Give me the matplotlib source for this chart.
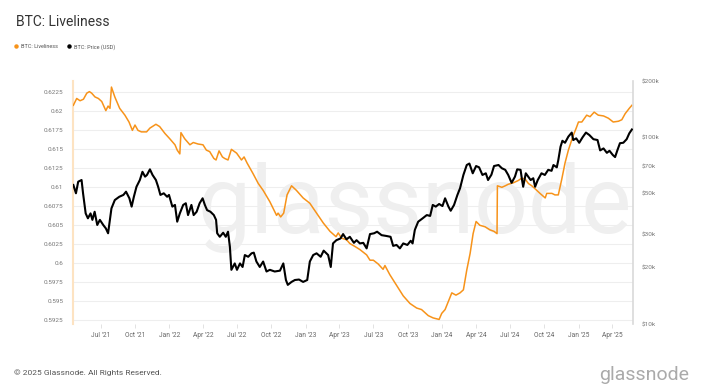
import matplotlib
matplotlib.use("Agg")
import matplotlib.pyplot as plt
import matplotlib.dates as mdates
import matplotlib.ticker as mticker
from matplotlib.lines import Line2D
import pandas as pd

# BTC liveliness (left axis)
liv_dates = ['2021-04-19','2021-04-28','2021-05-07','2021-05-16','2021-05-25','2021-06-01','2021-06-07',
             '2021-06-16','2021-06-25','2021-07-04','2021-07-15','2021-07-21','2021-07-26','2021-07-30',
             '2021-08-08','2021-08-21','2021-09-04','2021-09-15','2021-09-24','2021-10-01','2021-10-09',
             '2021-10-18','2021-11-01','2021-11-10','2021-11-26','2021-12-06','2021-12-20','2022-01-02',
             '2022-01-16','2022-01-22','2022-01-29','2022-02-01','2022-02-11','2022-02-25','2022-03-06',
             '2022-03-19','2022-04-01','2022-04-10','2022-04-19','2022-04-30','2022-05-06','2022-05-14',
             '2022-05-23','2022-05-29','2022-06-07','2022-06-16','2022-06-30','2022-07-13','2022-07-20',
             '2022-07-28','2022-08-13','2022-08-27','2022-09-09','2022-09-27','2022-10-10','2022-10-15',
             '2022-10-19','2022-10-26','2022-11-03','2022-11-12','2022-11-24','2022-12-07','2022-12-25',
             '2023-01-12','2023-01-30','2023-02-17','2023-03-07','2023-03-23','2023-03-29','2023-04-07',
             '2023-04-20','2023-04-29','2023-05-13','2023-05-26','2023-06-13','2023-06-22','2023-07-01',
             '2023-07-14','2023-07-27','2023-08-01','2023-08-14','2023-09-01','2023-09-19','2023-10-07',
             '2023-10-25','2023-11-07','2023-11-25','2023-12-08','2023-12-24','2023-12-31','2024-01-09',
             '2024-01-18','2024-01-27','2024-02-07','2024-02-18','2024-02-27','2024-03-07','2024-03-16',
             '2024-03-24','2024-04-01','2024-04-11','2024-04-25','2024-05-08','2024-05-19','2024-05-27',
             '2024-05-28','2024-06-09','2024-06-18','2024-06-26','2024-07-10','2024-07-23','2024-08-01',
             '2024-08-10','2024-08-19','2024-08-28','2024-09-06','2024-09-19','2024-10-03','2024-10-07',
             '2024-10-21','2024-10-29','2024-11-07','2024-11-16','2024-11-25','2024-12-04','2024-12-16',
             '2024-12-25','2024-12-31','2025-01-09','2025-01-22','2025-01-31','2025-02-11','2025-02-22',
             '2025-03-08','2025-03-21','2025-04-03','2025-04-17','2025-04-26','2025-05-05','2025-05-16',
             '2025-05-23']
liveliness = [0.6208,0.6217,0.6214,0.6216,0.6224,0.6226,0.6224,
              0.6219,0.6217,0.6213,0.6201,0.6207,0.6204,0.6232,
              0.6219,0.6204,0.6195,0.6186,0.6175,0.6182,0.6175,
              0.6173,0.6173,0.6178,0.6183,0.6180,0.6171,0.6164,
              0.6156,0.6149,0.6144,0.6172,0.6164,0.6156,0.6159,
              0.6157,0.6156,0.6149,0.6147,0.6138,0.6136,0.6148,
              0.6140,0.6138,0.6136,0.6150,0.6145,0.6136,0.6140,
              0.6132,0.6118,0.6105,0.6096,0.6081,0.6068,0.6063,
              0.6066,0.6061,0.6066,0.6090,0.6102,0.6096,0.6086,
              0.6079,0.6066,0.6053,0.6042,0.6035,0.6040,0.6033,
              0.6031,0.6026,0.6022,0.6018,0.6011,0.6004,0.6004,
              0.5999,0.5992,0.5997,0.5985,0.5971,0.5957,0.5947,
              0.5941,0.5939,0.5931,0.5928,0.5926,0.5934,0.5939,
              0.5950,0.5961,0.5958,0.5961,0.5965,0.5991,0.6013,
              0.6039,0.6055,0.6050,0.6048,0.6044,0.6042,0.6039,
              0.6102,0.6100,0.6102,0.6104,0.6106,0.6109,0.6112,
              0.6111,0.6105,0.6102,0.6098,0.6092,0.6086,0.6092,
              0.6092,0.6090,0.6090,0.6110,0.6132,0.6149,0.6167,
              0.6178,0.6186,0.6186,0.6195,0.6193,0.6199,0.6195,
              0.6194,0.6191,0.6186,0.6187,0.6189,0.6197,0.6204,
              0.6208]

# BTC price in USD (right axis, log)
price_dates = ['2021-04-19','2021-04-26','2021-05-02','2021-05-11','2021-05-15','2021-05-22','2021-05-28',
               '2021-06-04','2021-06-09','2021-06-15','2021-06-22','2021-06-29','2021-07-08','2021-07-15',
               '2021-07-21','2021-07-26','2021-07-30','2021-08-08','2021-08-20','2021-08-31','2021-09-07',
               '2021-09-16','2021-09-22','2021-09-28','2021-10-05','2021-10-14','2021-10-21','2021-10-28',
               '2021-11-02','2021-11-10','2021-11-17','2021-11-26','2021-12-02','2021-12-08','2021-12-17',
               '2021-12-26','2021-12-31','2022-01-09','2022-01-16','2022-01-22','2022-01-29','2022-02-07',
               '2022-02-14','2022-02-20','2022-03-01','2022-03-07','2022-03-15','2022-03-23','2022-03-31',
               '2022-04-06','2022-04-12','2022-04-21','2022-04-30','2022-05-06','2022-05-09','2022-05-16',
               '2022-05-25','2022-06-01','2022-06-07','2022-06-12','2022-06-16','2022-06-25','2022-07-01',
               '2022-07-09','2022-07-16','2022-07-22','2022-07-31','2022-08-09','2022-08-15','2022-08-22',
               '2022-08-31','2022-09-09','2022-09-18','2022-09-27','2022-10-10','2022-10-24','2022-11-02',
               '2022-11-09','2022-11-14','2022-11-24','2022-12-03','2022-12-14','2022-12-25','2023-01-05',
               '2023-01-12','2023-01-21','2023-01-30','2023-02-10','2023-02-18','2023-03-02','2023-03-09',
               '2023-03-15','2023-03-24','2023-04-04','2023-04-11','2023-04-20','2023-04-29','2023-05-10',
               '2023-05-17','2023-05-26','2023-06-04','2023-06-13','2023-06-22','2023-07-03','2023-07-11',
               '2023-07-23','2023-08-05','2023-08-16','2023-08-23','2023-09-01','2023-09-10','2023-09-19',
               '2023-09-30','2023-10-09','2023-10-14','2023-10-20','2023-10-29','2023-11-10','2023-11-21',
               '2023-11-30','2023-12-07','2023-12-15','2023-12-24','2024-01-02','2024-01-09','2024-01-18',
               '2024-01-24','2024-02-02','2024-02-11','2024-02-18','2024-02-27','2024-03-07','2024-03-14',
               '2024-03-23','2024-04-01','2024-04-09','2024-04-18','2024-04-27','2024-05-03','2024-05-12',
               '2024-05-19','2024-05-31','2024-06-09','2024-06-18','2024-06-26','2024-07-05','2024-07-14',
               '2024-07-20','2024-07-29','2024-08-02','2024-08-05','2024-08-12','2024-08-25','2024-09-01',
               '2024-09-06','2024-09-13','2024-09-23','2024-10-02','2024-10-11','2024-10-20','2024-10-25',
               '2024-11-03','2024-11-07','2024-11-13','2024-11-18','2024-11-25','2024-12-04','2024-12-13',
               '2024-12-17','2024-12-25','2025-01-02','2025-01-11','2025-01-20','2025-01-29','2025-02-09',
               '2025-02-20','2025-02-27','2025-03-08','2025-03-17','2025-03-24','2025-04-02','2025-04-08',
               '2025-04-14','2025-04-21','2025-04-30','2025-05-09','2025-05-16','2025-05-23']
price = [55500,50100,57800,59000,50100,39100,36800,
         39100,36100,39900,33900,36100,33900,32500,
         30600,36100,41600,46100,48000,49100,51100,
         47100,42500,48000,54300,59000,65300,61500,
         62800,67300,62800,59000,54300,49100,50100,
         48000,49100,42500,43400,35300,39100,43400,
         44300,38300,43400,38300,39900,44300,47100,
         43400,40700,39900,38300,36100,30600,29300,
         30800,29300,31200,25900,19500,21100,19500,
         21100,20200,23400,22900,23900,24100,21600,
         20200,21600,19100,19500,19100,19300,21100,
         17200,16200,16800,17200,17300,16800,17200,
         21600,23400,23900,22900,24700,23400,20200,
         27000,28100,28700,30300,28400,29300,27200,
         28100,27000,27200,25400,30300,30600,31200,
         29900,29600,29300,26200,26500,25400,27000,
         26500,27900,27000,31900,35300,36800,38300,
         37900,43400,42500,43900,42800,47100,42500,
         40400,43400,49100,53300,62800,71000,72300,
         64100,70100,69000,62800,64100,59000,63000,
         70100,71000,68200,66900,62800,57000,61500,
         67300,66900,59000,54300,64100,59000,60300,
         54300,59000,64100,62800,66900,66100,71000,
         69000,75400,89000,95700,93400,100800,105900,
         96600,98600,93400,99900,105900,102800,97600,
         96600,85000,87100,82500,84600,80300,78300,
         85000,92900,93400,97600,104900,110000]

left_ticks = [0.5925, 0.595, 0.5975, 0.6, 0.6025, 0.605, 0.6075, 0.61,
              0.6125, 0.615, 0.6175, 0.62, 0.6225]
right_ticks = [10000, 20000, 30000, 50000, 70000, 100000, 200000]
right_labels = ['$10k', '$20k', '$30k', '$50k', '$70k', '$100k', '$200k']

ORANGE = '#f7931a'
plt.rcParams['font.family'] = ['Roboto', 'DejaVu Sans']

fig = plt.figure(figsize=(7.05, 3.87), dpi=100)
ax = fig.add_axes([0.1035, 0.1628, 0.7944, 0.6279])
ax2 = ax.twinx()

ld = pd.to_datetime(liv_dates)
pd_ = pd.to_datetime(price_dates)

ax.plot(ld, liveliness, color=ORANGE, lw=1.1, zorder=3)
ax2.plot(pd_, price, color='black', lw=1.5, zorder=3)

ax.set_ylim(0.5920, 0.6240)
ax.set_yticks(left_ticks)
ax.yaxis.set_major_formatter(mticker.FuncFormatter(lambda v, p: '%g' % round(v, 4)))
ax.grid(axis='y', color='#eeeeee', lw=0.8)
ax.set_axisbelow(True)

ax2.set_yscale('log')
ax2.set_ylim(10000, 200000)
ax2.yaxis.set_major_locator(mticker.FixedLocator(right_ticks))
ax2.yaxis.set_major_formatter(mticker.FixedFormatter(right_labels))
ax2.yaxis.set_minor_locator(mticker.NullLocator())

ax.set_xlim(pd.Timestamp('2021-04-18'), pd.Timestamp('2025-05-26'))
ax.xaxis.set_major_locator(mdates.MonthLocator(bymonth=[1, 4, 7, 10]))
ax.xaxis.set_major_formatter(mdates.DateFormatter("%b '%y"))

for a in (ax, ax2):
    for s in a.spines.values():
        s.set_visible(False)
ax.spines['left'].set_visible(True)
ax.spines['left'].set_color('#fde3c2')
ax.spines['left'].set_linewidth(1.5)
ax2.spines['right'].set_visible(True)
ax2.spines['right'].set_color('#d9d9d9')
ax2.spines['right'].set_linewidth(1.2)

ax.tick_params(axis='y', length=0, pad=7, labelsize=4.6, labelcolor='#777777')
ax2.tick_params(axis='y', length=0, pad=6.5, labelsize=4.6, labelcolor='#777777')
ax.tick_params(axis='x', length=3, width=0.6, color='#dddddd', pad=2.5,
               labelsize=4.8, labelcolor='#666666')

# watermark
ax.text(0.61, 0.48, 'glassnode', transform=ax.transAxes, ha='center', va='center',
        fontsize=68, color='#efefef', zorder=1)

fig.text(0.0227, 0.943, 'BTC: Liveliness', fontsize=10, color='#333333', va='center')

handles = [Line2D([], [], marker='o', ls='none', color=ORANGE, markersize=2.2),
           Line2D([], [], marker='o', ls='none', color='black', markersize=2.2)]
fig.legend(handles, ['BTC: Liveliness', 'BTC: Price (USD)'], loc='center left',
           bbox_to_anchor=(0.022, 0.879), ncol=2, frameon=False, fontsize=4,
           handlelength=0.3, handletextpad=0.6, columnspacing=2.0, labelcolor='#555555',
           borderaxespad=0, borderpad=0)

fig.text(0.02, 0.038, '© 2025 Glassnode. All Rights Reserved.', fontsize=6,
         color='#555555', va='center')
fig.text(0.978, 0.03, 'glassnode', fontsize=14, color='#aaaaaa', ha='right', va='center')

fig.savefig('out.png', dpi=100)
